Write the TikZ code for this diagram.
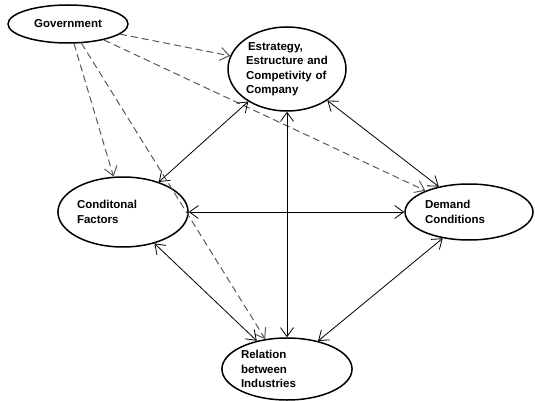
\documentclass[tikz,border=0pt]{standalone}
\usepackage{fontspec}
\setmainfont{Liberation Sans}
\usetikzlibrary{shapes.geometric,arrows.meta}

\begin{document}
\begin{tikzpicture}[x=1pt,y=-1pt,
    >={Straight Barb[length=9pt,width=13pt]},
    factor/.style={ellipse,draw,line width=1.5pt,inner sep=0pt,align=left,
      font=\fontsize{11.5}{14.5}\selectfont\bfseries}]

        \useasboundingbox (0,0) rectangle (535,401);

        \begin{scope}[every node/.style={factor}]
          \node[minimum width=120pt,minimum height=38pt,align=center] (gov) at (68,24) {Government};
          \node[minimum width=118pt,minimum height=84pt,text width=82pt] (str) at (287,69)
            {\hspace*{2pt}Estrategy,\\Estructure and\\Competivity of\\Company};
          \node[minimum width=130pt,minimum height=70pt,text width=92pt] (cf) at (123,212)
            {Conditonal\\Factors};
          \node[minimum width=128pt,minimum height=56pt,text width=88pt] (dc) at (469,212)
            {Demand\\Conditions};
          \node[minimum width=130pt,minimum height=62pt,text width=92pt] (rb) at (287,369)
            {Relation\\between\\Industries};
        \end{scope}

        % influence of the government
        \begin{scope}[every edge/.style={draw,black!65,line width=1pt,dash pattern=on 7pt off 4pt,->}]
          \path (gov.-11) edge (str.167);
          \path (gov.-24) edge (dc.154);
          \path (gov.-73) edge (cf.105);
          \path (gov.-55) edge (rb.126);
        \end{scope}

        \begin{scope}[every edge/.style={draw,line width=.8pt,<->}]
          \path (cf.40)   edge (str.-140);
          \path (str.-90) edge (rb.90);
          \path (str.-38) edge (dc.140);
          \path (cf.0)    edge (dc.180);
          \path (cf.-45)  edge (rb.137);
          \path (dc.-135) edge (rb.42);
        \end{scope}

      \end{tikzpicture}
\end{document}
